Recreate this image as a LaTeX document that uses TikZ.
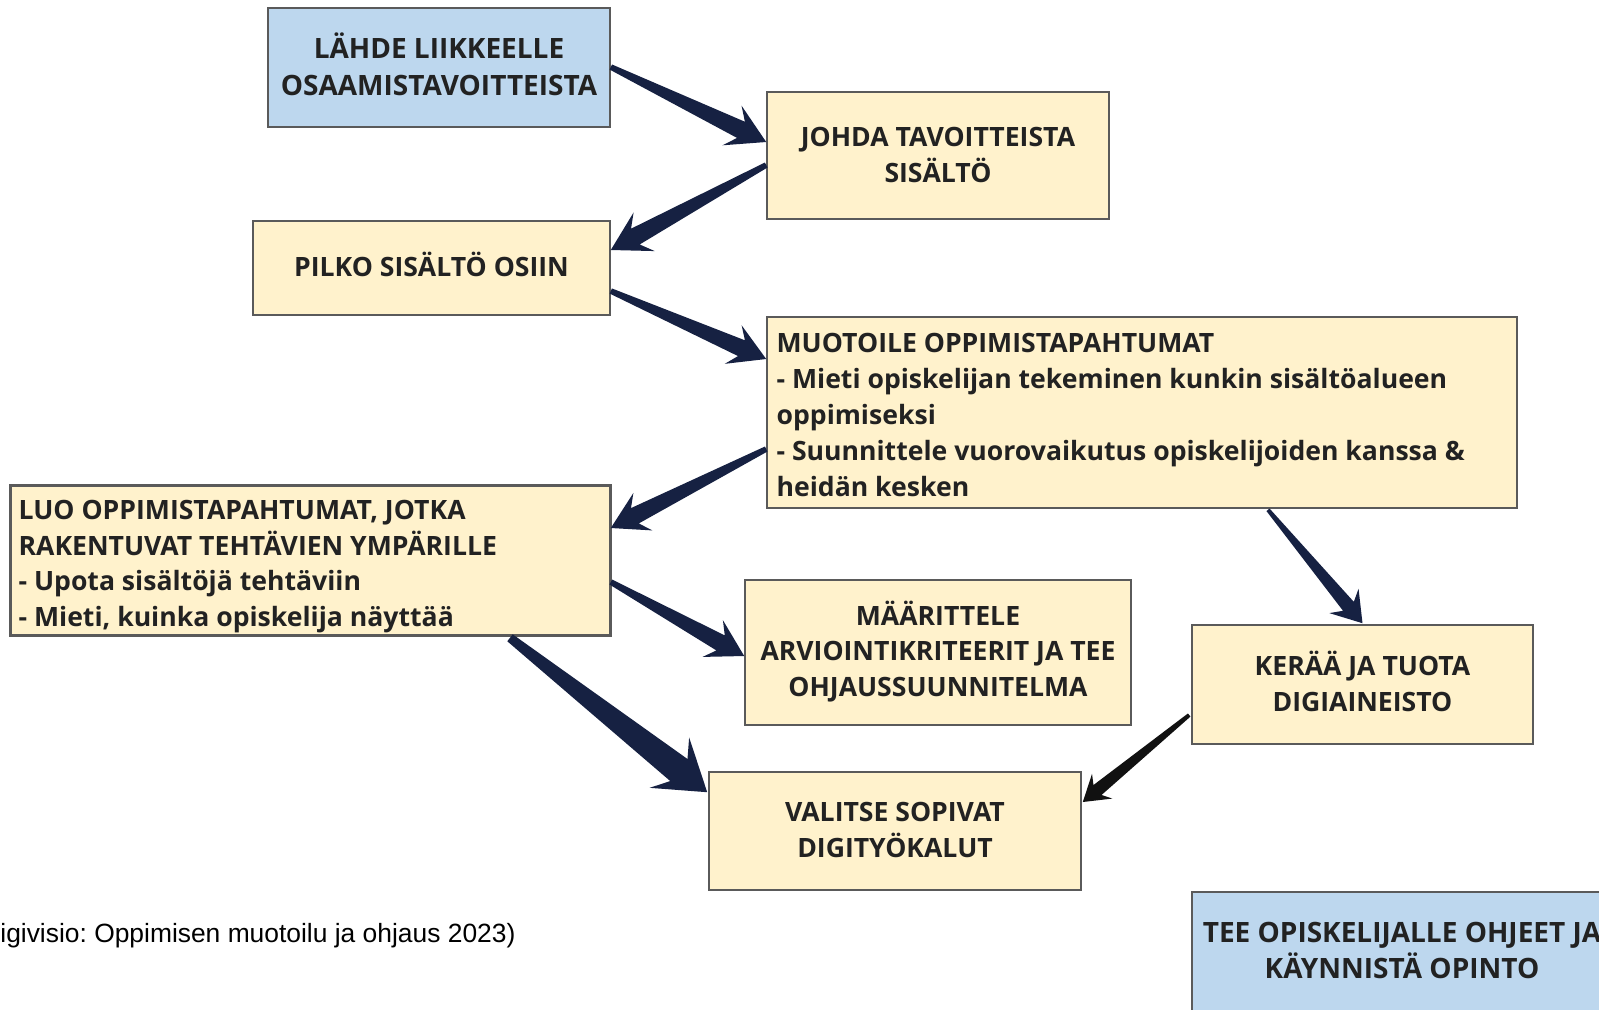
\documentclass[tikz,border=0pt]{standalone}
\usepackage{fontspec}
\setmainfont{Open Sans}
\newfontfamily\captfont{Liberation Sans}
\usetikzlibrary{calc}
\definecolor{boxblue}{HTML}{BDD7EE}
\definecolor{boxcream}{HTML}{FFF2CC}
\definecolor{boxline}{HTML}{5A5A5A}
\definecolor{navy}{HTML}{162142}
\definecolor{txt}{HTML}{222222}
\definecolor{darkarrow}{HTML}{111111}
\frenchspacing
% tail, tip, tail half-width, neck half-width, barb half-width, neck distance, head length, colour
\newcommand\wedgearrow[8]{%
  \coordinate (wN) at ($(#2)!#6!(#1)$);
  \coordinate (wB) at ($(#2)!#7!(#1)$);
  \fill[#8] ($(#1)!#3!90:(#2)$) -- ($(wN)!#4!90:(#2)$) -- ($(wB)!#5!90:(#2)$) -- (#2)
    -- ($(wB)!#5!-90:(#2)$) -- ($(wN)!#4!-90:(#2)$) -- ($(#1)!#3!-90:(#2)$) -- cycle;
}
\tikzset{
  box/.style={draw=boxline, line width=0.8pt, fill=boxcream, inner sep=0pt},
  bluebox/.style={box, fill=boxblue},
  ctext/.style={inner sep=0pt, text=txt, font=\fontsize{13.3}{17.9}\selectfont\bfseries, align=center},
  bigctext/.style={ctext, font=\fontsize{14}{18.4}\selectfont\bfseries},
  boxtext/.style={inner sep=0pt, text=txt, font=\fontsize{13.3}{17.9}\selectfont\bfseries, align=left, anchor=west},
}
\begin{document}
\begin{tikzpicture}[x=0.5pt,y=-0.5pt]
\useasboundingbox (0,0) rectangle (1599,1009);
\clip (0,0) rectangle (1599,1009);
\fill[white] (0,0) rectangle (1599,1009);

% boxes
\node[bluebox, minimum width=171pt, minimum height=59.5pt] (lahde) at (439,67.5) {};
\node[bigctext] (lahdetxt) at ($(lahde)+(0,-3)$) {LÄHDE LIIKKEELLE\\OSAAMISTAVOITTEISTA};
\node[box, minimum width=171pt, minimum height=63.5pt] (johda) at (938,155.5) {};
\node[ctext] (johdatxt) at ($(johda)+(0,-0.5)$) {JOHDA TAVOITTEISTA\\SISÄLTÖ};
\node[box, minimum width=178.5pt, minimum height=47pt] (pilko) at (431.5,268) {};
\node[ctext] (pilkotxt) at ($(pilko)+(0,-4)$) {PILKO SISÄLTÖ OSIIN};
\node[box, minimum width=375pt, minimum height=95.5pt] (muot) at (1142,412.5) {};
\node[boxtext] (muottxt) at ($(muot.west)+(10,2.5)$) {MUOTOILE OPPIMISTAPAHTUMAT\\- Mieti opiskelijan tekeminen kunkin sisältöalueen\\oppimiseksi\\- Suunnittele vuorovaikutus opiskelijoiden kanssa \&\\heidän kesken};
\node[box, minimum width=299.5pt, minimum height=74.5pt] (luo) at (310.5,560.5) {};
\begin{scope}
  \clip (luo.north west) rectangle (luo.south east);
  \node[boxtext] (luotxt) at ($(luo.west)+(8,6)$) {LUO OPPIMISTAPAHTUMAT, JOTKA\\RAKENTUVAT TEHTÄVIEN YMPÄRILLE\\- Upota sisältöjä tehtäviin\\- Mieti, kuinka opiskelija näyttää};
\end{scope}
\draw[boxline, line width=0.8pt] (luo.north west) rectangle (luo.south east);
\node[box, minimum width=193pt, minimum height=72.5pt] (maar) at (938,652.5) {};
\node[ctext] (maartxt) at ($(maar)+(0,-1)$) {MÄÄRITTELE\\ARVIOINTIKRITEERIT JA TEE\\OHJAUSSUUNNITELMA};
\node[box, minimum width=170.5pt, minimum height=59.5pt] (keraa) at (1362.5,684.5) {};
\node[ctext] (keraatxt) at ($(keraa)+(0,-3)$) {KERÄÄ JA TUOTA\\DIGIAINEISTO};
\node[box, minimum width=186pt, minimum height=59pt] (valitse) at (895,831) {};
\node[ctext] (valitsetxt) at ($(valitse)+(0,-1)$) {VALITSE SOPIVAT\\DIGITYÖKALUT};
\node[bluebox, minimum width=210pt, minimum height=69pt] (tee) at (1402,961) {};
\node[bigctext] (teetxt) at (1402,950.5) {TEE OPISKELIJALLE OHJEET JA\\KÄYNNISTÄ OPINTO};

% caption
\node[anchor=west, inner sep=0pt, font=\captfont\fontsize{13.2}{15}\selectfont] (cap) at (0,936) {igivisio: Oppimisen muotoilu ja ohjaus 2023)};

% arrow end points
\coordinate (a1t) at ($(lahde.east)+(0,-0.5)$);
\coordinate (a1h) at ($(johda.west)+(0,-13.5)$);
\coordinate (a2t) at ($(johda.west)+(0,9.5)$);
\coordinate (a2h) at ($(pilko.east)+(0,-18)$);
\coordinate (a3t) at ($(pilko.east)+(0,23)$);
\coordinate (a3h) at ($(muot.west)+(0,-53.5)$);
\coordinate (a4t) at ($(muot.west)+(0,36.5)$);
\coordinate (a4h) at ($(luo.east)+(0,-32.5)$);
\coordinate (a5t) at ($(luo.east)+(0,21.5)$);
\coordinate (a5h) at ($(maar.west)+(0,3.5)$);
\coordinate (a6t) at ($(luo.south)+(199.5,2)$);
\coordinate (a6h) at ($(valitse.north west)+(-1,21)$);
\coordinate (a7t) at ($(muot.south)+(126,1)$);
\coordinate (a7h) at ($(keraa.north)+(0,-1)$);
\coordinate (a8t) at ($(keraa.west)+(-2,30.5)$);
\coordinate (a8h) at ($(valitse.east)+(1,-29)$);

\wedgearrow{a1t}{a1h}{1.4pt}{4.5pt}{11pt}{14pt}{19pt}{navy}
\wedgearrow{a2t}{a2h}{1.4pt}{4.5pt}{11pt}{14pt}{19pt}{navy}
\wedgearrow{a3t}{a3h}{1.4pt}{4.3pt}{10.5pt}{13.5pt}{18pt}{navy}
\wedgearrow{a4t}{a4h}{1.4pt}{4.3pt}{10.5pt}{13.5pt}{18pt}{navy}
\wedgearrow{a5t}{a5h}{1.4pt}{4.3pt}{10.5pt}{13.5pt}{18pt}{navy}
\wedgearrow{a6t}{a6h}{2.2pt}{7pt}{16pt}{18pt}{24pt}{navy}
\wedgearrow{a7t}{a7h}{1pt}{3.5pt}{9.5pt}{11pt}{14.5pt}{navy}
\wedgearrow{a8t}{a8h}{1pt}{3.2pt}{8pt}{9.5pt}{12.5pt}{darkarrow}
\end{tikzpicture}
\end{document}
